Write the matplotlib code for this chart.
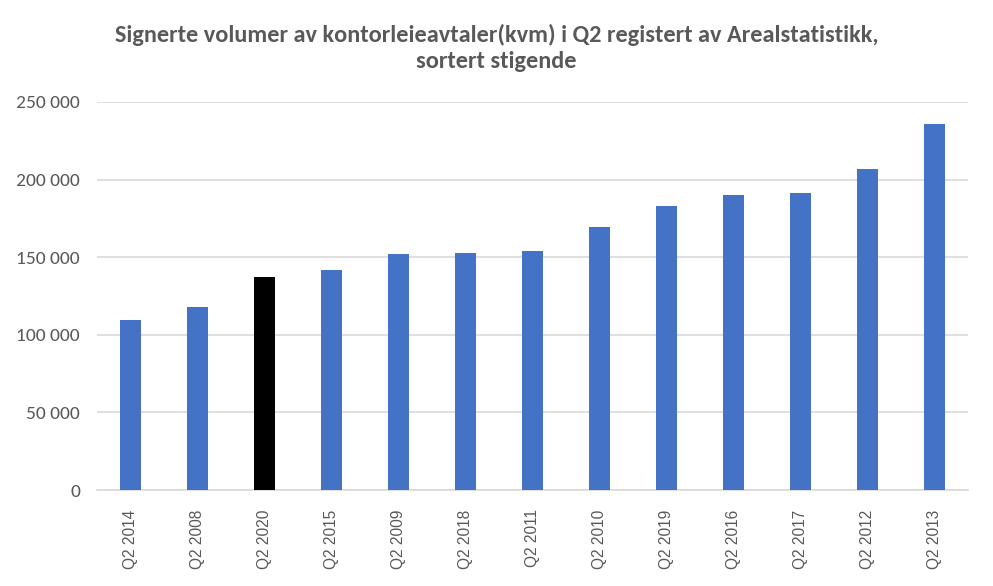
import matplotlib.pyplot as plt
from matplotlib.ticker import FuncFormatter, MultipleLocator

categories = ['Q2 2014', 'Q2 2008', 'Q2 2020', 'Q2 2015', 'Q2 2009', 'Q2 2018', 'Q2 2011',
              'Q2 2010', 'Q2 2019', 'Q2 2016', 'Q2 2017', 'Q2 2012', 'Q2 2013']
volumes = [109600, 117800, 137200, 142000, 152200, 152800, 154100,
           169400, 182700, 190200, 191500, 207000, 235600]
highlight = 'Q2 2020'

BLUE = '#4472C4'
GREY = '#595959'
GRID = '#D9D9D9'
CAL = ['Carlito', 'Liberation Sans Narrow', 'DejaVu Sans']

colors = ['black' if c == highlight else BLUE for c in categories]

fig = plt.figure(figsize=(9.93, 5.86), dpi=100)
ax = fig.add_axes([0.0974, 0.1638, 0.8776, 0.6622])

x = range(len(categories))
ax.bar(x, volumes, width=0.32, color=colors, zorder=3)

ax.set_xlim(-0.5, len(categories) - 0.5)
ax.set_ylim(0, 250000)
ax.yaxis.set_major_locator(MultipleLocator(50000))
ax.yaxis.set_major_formatter(FuncFormatter(lambda v, p: f'{int(v):,}'.replace(',', ' ')))
ax.grid(axis='y', color=GRID, linewidth=1.2, zorder=0)
for s in ['top', 'right', 'left']:
    ax.spines[s].set_visible(False)
ax.spines['bottom'].set_color(GRID)
ax.spines['bottom'].set_linewidth(1.2)
ax.tick_params(length=0)
ax.tick_params(axis='y', pad=12, labelsize=14, labelcolor=GREY)

ax.set_xticks(list(x))
ax.set_xticklabels(categories, rotation=90, fontsize=11.2, color=GREY,
                   family=['Liberation Sans', 'DejaVu Sans'])
ax.tick_params(axis='x', pad=14)
for lab in ax.get_yticklabels():
    lab.set_family(CAL)

fig.text(0.5, 0.918, 'Signerte volumer av kontorleieavtaler(kvm) i Q2 registert av Arealstatistikk,\nsortert stigende',
         ha='center', va='center', fontsize=17.5, fontweight='bold', color=GREY,
         linespacing=1.28, family=CAL)

fig.savefig('out.png', dpi=100)
